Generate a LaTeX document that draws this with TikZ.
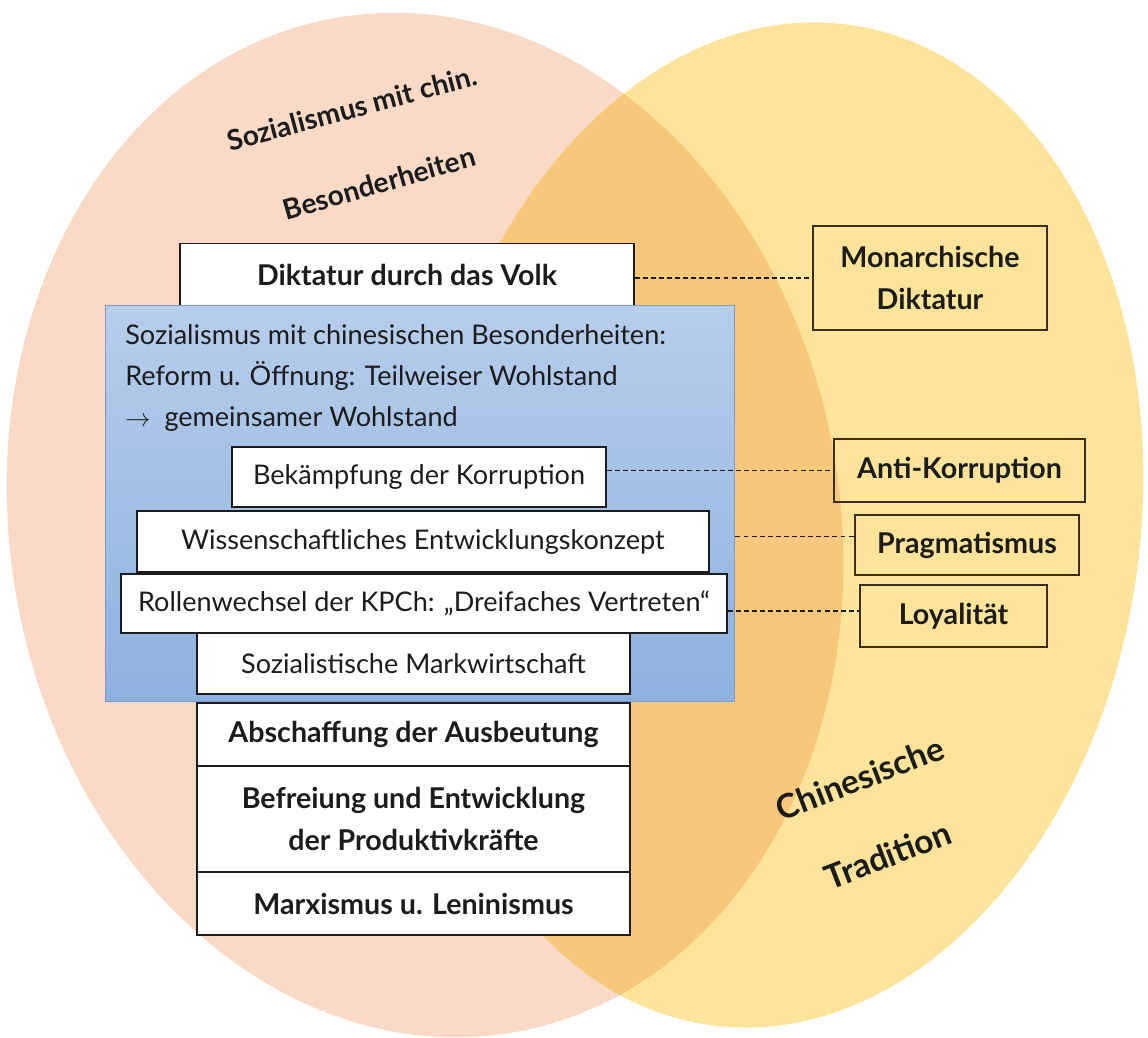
\documentclass[tikz,border=0pt]{standalone}
\usepackage{fontspec}
\setmainfont{Lato}
\usetikzlibrary{positioning}

\definecolor{peach}{HTML}{F9DAC6}
\definecolor{sand}{HTML}{FEE49A}
\definecolor{ochre}{HTML}{F7C87B}
\definecolor{skytop}{HTML}{B7CDEB}
\definecolor{skybot}{HTML}{8DB1DF}
\definecolor{skyline}{HTML}{7B9BC8}
\definecolor{ink}{HTML}{1C1C1C}
\definecolor{umber}{HTML}{3A2E24}

\tikzset{
  lightbox/.style={draw=ink, fill=white, line width=0.8pt, inner sep=0pt, align=center,
    text=ink, font=\fontsize{15.4}{23.5}\selectfont},
  boldbox/.style={lightbox, font=\fontsize{16.3}{23.5}\selectfont\bfseries},
  tradbox/.style={draw=umber, line width=0.8pt, inner sep=0pt, align=center,
    text=ink, font=\fontsize{16.3}{23.5}\selectfont\bfseries},
  circlelabel/.style={text=ink, font=\fontsize{16}{20}\selectfont\bfseries},
  biglabel/.style={circlelabel, font=\fontsize{19}{24}\selectfont\bfseries},
  link/.style={draw=ink, line width=0.6pt, dash pattern=on 2.8pt off 1.8pt}
}

\begin{document}
\begin{tikzpicture}[x=0.02cm,y=-0.02cm]
    % canvas of the sketch, in pixels
    \fill[white] (0,0) rectangle (1148,1037);
    \useasboundingbox (0,0) rectangle (1148,1037);

    % the two circles
    \coordinate (lc) at (425,525);
    \coordinate (rc) at (780,525);
    \fill[peach, rotate around={10:(lc)}] (lc) ellipse [x radius=8.3cm, y radius=10.3cm];
    \fill[sand, rotate around={-8:(rc)}] (rc) ellipse [x radius=7.2cm, y radius=10.1cm];
    % where they overlap
    \begin{scope}
        \clip[rotate around={10:(lc)}] (lc) ellipse [x radius=8.3cm, y radius=10.3cm];
        \fill[ochre, rotate around={-8:(rc)}] (rc) ellipse [x radius=7.2cm, y radius=10.1cm];
    \end{scope}

    % names of the circles
    \node[circlelabel, rotate=15] (soztitle) at (352,108) {Sozialismus mit chin.};
    \node[circlelabel, rotate=16] (beztitle) at (379,183) {Besonderheiten};
    \node[biglabel, rotate=21] (chntitle) at (860,778) {Chinesische};
    \node[biglabel, rotate=21] (tratitle) at (888,855) {Tradition};

    % top box
    \node[boldbox, minimum width=9.08cm, minimum height=1.24cm] (dikt) at (407,274.5) {Diktatur durch das Volk};

    % blue box with its text
    \node[draw=skyline, line width=0.6pt, top color=skytop, bottom color=skybot,
          minimum width=12.6cm, minimum height=7.94cm, inner sep=0pt] (sozbox) at (420,503.5) {};
    \node[anchor=north west, inner sep=0pt, align=left, text=ink, font=\fontsize{15.4}{23.5}\selectfont]
          (soztext) at (125,324) {Sozialismus mit chinesischen Besonderheiten:\\
          Reform u. Öffnung: Teilweiser Wohlstand\\
          $\rightarrow$\ \ gemeinsamer Wohlstand};

    % boxes inside the blue box
    \node[lightbox, minimum width=7.48cm, minimum height=1.2cm] (korr) at (419,477) {Bekämpfung der Korruption};
    \node[lightbox, minimum width=11.44cm, minimum height=1.22cm] (wiss) at (423,541.5) {Wissenschaftliches Entwicklungskonzept};
    \node[lightbox, minimum width=12.12cm, minimum height=1.18cm] (kpch) at (424,603.5) {Rollenwechsel der KPCh: „Dreifaches Vertreten“};
    \node[lightbox, minimum width=8.66cm, minimum height=1.22cm] (markt) at (413.5,663.5) {Sozialistische Markwirtschaft};

    % base of the stack
    \node[boldbox, minimum width=8.66cm, minimum height=1.26cm] (ausb) at (413.5,734.5) {Abschaffung der Ausbeutung};
    \node[boldbox, minimum width=8.66cm, minimum height=2.12cm] (prod) at (413.5,819) {Befreiung und Entwicklung\\der Produktivkräfte};
    \node[boldbox, minimum width=8.66cm, minimum height=1.26cm] (marx) at (413.5,903.5) {Marxismus u. Leninismus};

    % tradition boxes
    \node[tradbox, minimum width=4.68cm, minimum height=2.08cm] (monar) at (930,278) {Monarchische\\Diktatur};
    \node[tradbox, minimum width=5.02cm, minimum height=1.26cm] (anti) at (959.5,470.5) {Anti-Korruption};
    \node[tradbox, minimum width=4.48cm, minimum height=1.2cm] (prag) at (967,545) {Pragmatismus};
    \node[tradbox, minimum width=3.74cm, minimum height=1.24cm] (loyal) at (953.5,616) {Loyalität};

    % dashed links
    \draw[link] (dikt.east |- monar.west) -- (monar.west);
    \draw[link] (korr.east |- anti.west) -- (anti.west);
    \draw[link] ([yshift=0.1cm]sozbox.east |- wiss.east) -- ([yshift=0.1cm]wiss.east -| prag.west);
    \draw[link] ([yshift=-0.15cm]kpch.east) -- ([yshift=-0.15cm]kpch.east -| loyal.west);
\end{tikzpicture}
\end{document}
